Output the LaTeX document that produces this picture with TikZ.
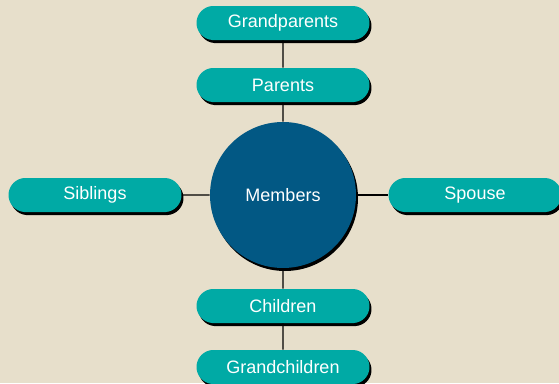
\documentclass[tikz,border=0pt]{standalone}
\usepackage{fontspec}
\setmainfont{Liberation Sans}
\usetikzlibrary{shapes}
\usetikzlibrary{shadows}
\definecolor{pillTeal}{RGB}{0,170,165}
\definecolor{hubBlue}{RGB}{2,88,132}
\definecolor{marbleBeige}{RGB}{231,223,203}

\begin{document}
\begin{tikzpicture}
[-,thick,x=1pt,y=-1pt,%
  linkDecorate/.style={-,line width=1.3pt,black},%
  pillDecorate/.style={shape=rounded rectangle,rounded rectangle arc length=170,minimum width=173pt,minimum height=34pt,inner sep=0pt,fill=pillTeal,text=white,font=\fontsize{18}{20}\selectfont,drop shadow={shadow xshift=2pt,shadow yshift=-3pt,opacity=1,fill=black}},%
  hubDecorate/.style={shape=circle,minimum size=146pt,inner sep=0pt,fill=hubBlue,text=white,font=\fontsize{18}{20}\selectfont,drop shadow={shadow xshift=2pt,shadow yshift=-3pt,opacity=1,fill=black}}]
%% background
\clip (0,0) rectangle (559,383);
\fill[marbleBeige] (0,0) rectangle (559,383);
%% centre
\node[hubDecorate] (members) at (283,195) {Members};
%% relatives
\foreach \nodename/\x/\y/\caption in {
  grandparents/283/23/Grandparents, parents/283/85/Parents,
  siblings/95/195/Siblings, spouse/475/195/Spouse,
  children/283/306/Children, grandchildren/283/367/Grandchildren}
{
  \node[pillDecorate] (\nodename) at (\x,\y) {\caption};
}
%% connect relatives to members
\path
(grandparents) edge[linkDecorate] (parents)
(parents) edge[linkDecorate] (members)
(siblings) edge[linkDecorate] (members)
(members) edge[linkDecorate] (spouse)
(members) edge[linkDecorate] (children)
(children) edge[linkDecorate] (grandchildren);
\end{tikzpicture}
\end{document}
